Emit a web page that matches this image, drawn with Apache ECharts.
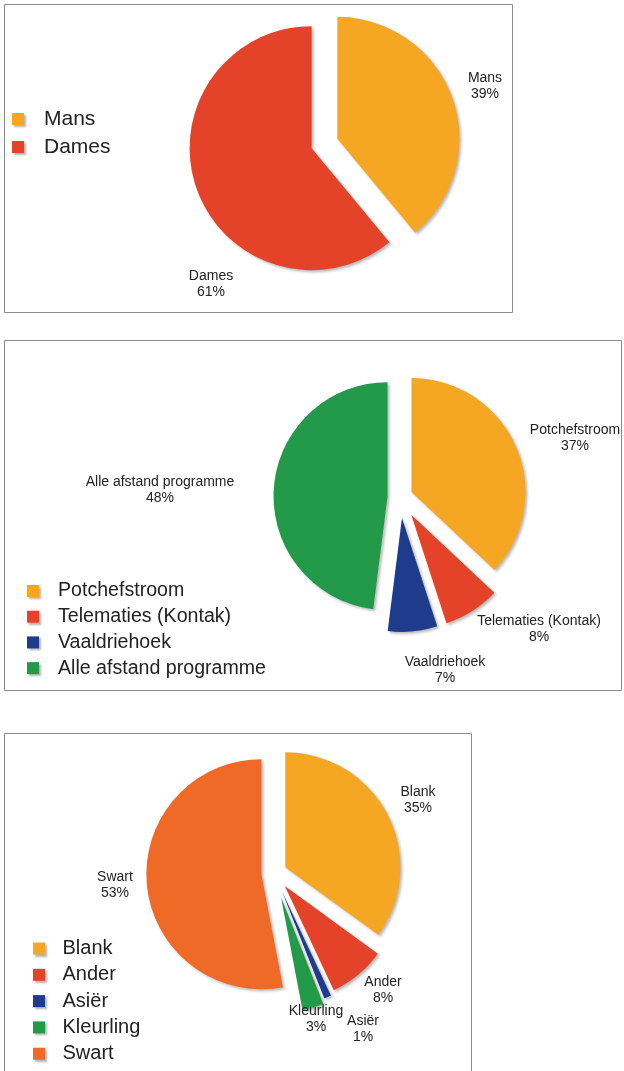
<!DOCTYPE html>
<html><head><meta charset="utf-8">
<script src="https://cdn.jsdelivr.net/npm/echarts@6/dist/echarts.min.js"></script>
<style>html,body{margin:0;padding:0;background:#fff}#c{width:624px;height:1071px}</style>
</head><body><div id="c"></div>
<script>
// ---- data ----
const genderNames = ['Mans', 'Dames'];
const genderValues = [39, 61];

const campusNames = ['Potchefstroom', 'Telematies (Kontak)', 'Vaaldriehoek', 'Alle afstand programme'];
const campusValues = [37, 8, 7, 48];

const raceNames = ['Blank', 'Ander', 'Asiër', 'Kleurling', 'Swart'];
const raceValues = [35, 8, 1, 3, 53];

// ---- styling ----
const ORANGE = '#F5A623', RED = '#E4432A', NAVY = '#1F3C8C', GREEN = '#23994A', DARKORANGE = '#EE6A26';
const genderColors = [ORANGE, RED];
const campusColors = [ORANGE, RED, NAVY, GREEN];
const raceColors = [ORANGE, RED, NAVY, GREEN, DARKORANGE];

const FONT = '"Liberation Sans", Arial, Helvetica, sans-serif';

// label anchor spots (text placement only)
const labelSpots = {
  'Mans': [485, 86], 'Dames': [211, 284],
  'Potchefstroom': [575, 438], 'Alle afstand programme': [160, 490],
  'Telematies (Kontak)': [539, 629], 'Vaaldriehoek': [445, 670],
  'Blank': [418, 800], 'Swart': [115, 885], 'Ander': [383, 990],
  'Kleurling': [316, 1019], 'Asiër': [363, 1029]
};

const sliceShadow = { shadowColor: 'rgba(0,0,0,0.28)', shadowBlur: 3, shadowOffsetX: 2, shadowOffsetY: 2 };

function pieSeries(names, values, colors, center, radius, groups) {
  return groups.map(g => ({
    type: 'pie',
    center: center,
    radius: radius,
    startAngle: 90,
    clockwise: true,
    selectedMode: 'multiple',
    selectedOffset: g.offset,
    avoidLabelOverlap: false,
    animation: false,
    emphasis: { disabled: true },
    label: { show: false },
    labelLine: { show: false },
    data: names.map((n, i) => g.members.indexOf(n) >= 0
      ? { name: n, value: values[i], selected: true,
          itemStyle: Object.assign({ color: colors[i] }, sliceShadow) }
      : { name: n, value: values[i],
          itemStyle: { color: 'rgba(0,0,0,0)', shadowBlur: 0, shadowColor: 'rgba(0,0,0,0)' } })
  }));
}

function sliceLabels(names, values) {
  const total = values.reduce((a, b) => a + b, 0);
  return names.map((n, i) => ({
    type: 'text', z: 50,
    style: {
      text: n + '\n' + Math.round(values[i] / total * 100) + '%',
      x: labelSpots[n][0], y: labelSpots[n][1],
      align: 'center', verticalAlign: 'middle',
      fontSize: 14, fontFamily: FONT, lineHeight: 16, fill: '#222'
    }
  }));
}

function legendOf(names, colors, left, top, fontSize, gap, pad) {
  return {
    orient: 'vertical', left: left, top: top, padding: 0,
    selectedMode: false,
    icon: 'rect', itemWidth: 12, itemHeight: 12, itemGap: gap,
    itemStyle: { shadowColor: 'rgba(0,0,0,0.3)', shadowBlur: 2, shadowOffsetX: 2, shadowOffsetY: 2 },
    textStyle: { fontSize: fontSize, color: '#222', fontFamily: FONT, padding: [0, 0, 0, pad] },
    data: names.map((n, i) => ({ name: n, itemStyle: { color: colors[i] } }))
  };
}

const chart = echarts.init(document.getElementById('c'), null, { renderer: 'canvas' });
chart.setOption({
  animation: false,
  backgroundColor: '#fff',
  graphic: [
    { type: 'rect', z: -10, shape: { x: 4.5, y: 4.5, width: 508, height: 308 }, style: { fill: '#fff', stroke: '#8c8c8c', lineWidth: 1 } },
    { type: 'rect', z: -10, shape: { x: 4.5, y: 340.5, width: 617, height: 350 }, style: { fill: '#fff', stroke: '#8c8c8c', lineWidth: 1 } },
    { type: 'rect', z: -10, shape: { x: 4.5, y: 733.5, width: 467, height: 345 }, style: { fill: '#fff', stroke: '#8c8c8c', lineWidth: 1 } }
  ].concat(
    sliceLabels(genderNames, genderValues),
    sliceLabels(campusNames, campusValues),
    sliceLabels(raceNames, raceValues)
  ),
  legend: [
    legendOf(genderNames, genderColors, 12, 108.5, 21, 7, 15),
    legendOf(campusNames, campusColors, 27, 581, 19.6, 5.7, 14),
    legendOf(raceNames, raceColors, 33, 938.5, 20, 6.3, 12.5)
  ],
  series: [].concat(
    pieSeries(genderNames, genderValues, genderColors, [324.5, 143.5], 122,
      [{ offset: 13.7, members: ['Mans', 'Dames'] }]),
    pieSeries(campusNames, campusValues, campusColors, [400, 497], 114,
      [{ offset: 12.5, members: ['Potchefstroom', 'Alle afstand programme'] },
       { offset: 21, members: ['Telematies (Kontak)', 'Vaaldriehoek'] }]),
    pieSeries(raceNames, raceValues, raceColors, [274, 873], 115,
      [{ offset: 12.7, members: ['Blank', 'Swart'] },
       { offset: 17, members: ['Ander'] },
       { offset: 20, members: ['Asiër'] },
       { offset: 25, members: ['Kleurling'] }])
  )
});
</script>
</body></html>
